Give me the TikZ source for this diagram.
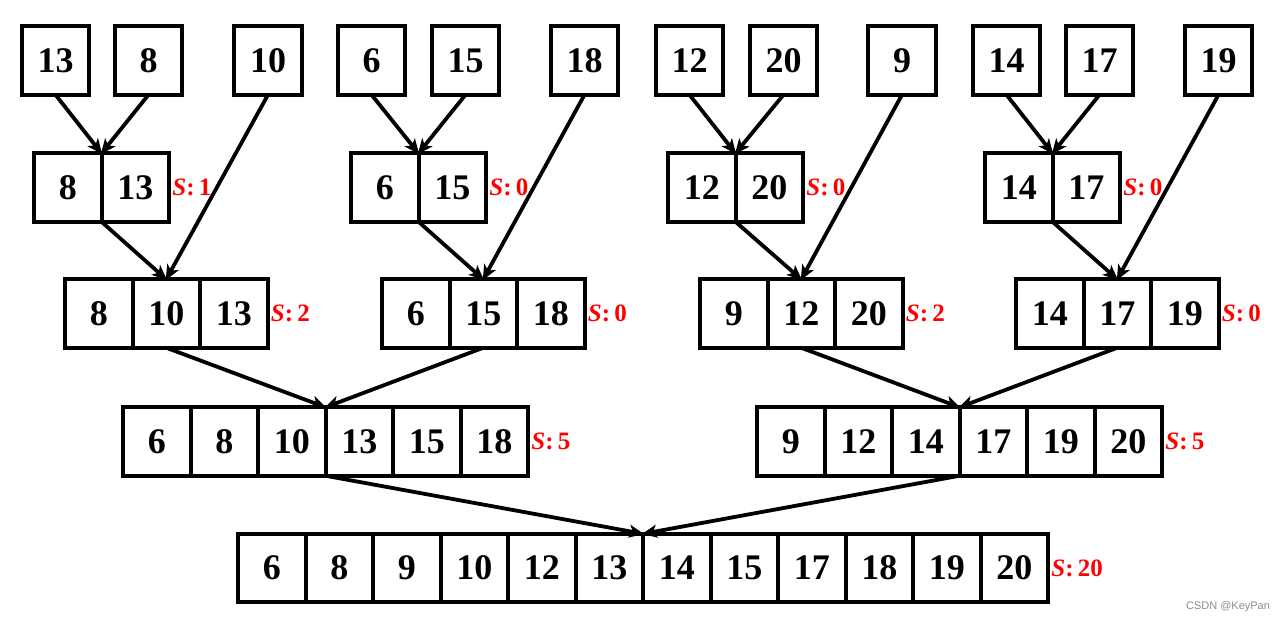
\documentclass[tikz,border=0pt]{standalone}
\usepackage{fontspec}
\setmainfont{Liberation Serif}
\setsansfont{Liberation Sans}
\usetikzlibrary{positioning,arrows.meta}

\begin{document}
\begin{tikzpicture}[>={Stealth[length=7.5pt,width=6.5pt,inset=2pt]},x=0.5pt,y=-0.5pt,
    cell/.style={draw,line width=2pt,minimum width=33.75pt,minimum height=34.25pt,inner sep=0pt,outer sep=0pt,font=\fontsize{18}{18}\selectfont\bfseries},
    score/.style={text=red,anchor=west,inner sep=1.5pt,font=\fontsize{12.5}{12}\selectfont\bfseries},
    link/.style={->,line width=1.9pt,shorten >=-0.5pt}]
    \useasboundingbox (0,0) rectangle (1284,621);
    % leaves
    \foreach \v/\x [count=\i] in {13/55.5,8/148.5,10/268,6/371.5,15/465.5,18/584.5,12/689.5,20/783.5,9/902,14/1006.5,17/1099.5,19/1218.5}
        \node[cell] (leaf\i) at (\x,60.5) {\v};
    % pairs
    \foreach \a/\b/\x/\s [count=\i] in {8/13/34/1,6/15/351/0,12/20/668/0,14/17/985/0} {
        \node[cell,anchor=west] (pair\i a) at (\x,187.5) {\a};
        \node[cell,right=0pt of pair\i a] (pair\i b) {\b};
        \node[score] (pair\i s) at (pair\i b.east) {\textit{S}:\,\s};
    }
    % triples
    \foreach \a/\b/\c/\x/\s [count=\i] in {8/10/13/65/2,6/15/18/382/0,9/12/20/700/2,14/17/19/1016/0} {
        \node[cell,anchor=west] (tri\i a) at (\x,313.5) {\a};
        \node[cell,right=0pt of tri\i a] (tri\i b) {\b};
        \node[cell,right=0pt of tri\i b] (tri\i c) {\c};
        \node[score] (tri\i s) at (tri\i c.east) {\textit{S}:\,\s};
    }
    % halves
    \foreach \v [count=\j] in {6,8,10,13,15,18}
        \node[cell] (half1-\j) at ({123+(\j-0.5)*67.5},441.5) {\v};
    \foreach \v [count=\j] in {9,12,14,17,19,20}
        \node[cell] (half2-\j) at ({757+(\j-0.5)*67.5},441.5) {\v};
    \node[score] (half1s) at (half1-6.east) {\textit{S}:\,5};
    \node[score] (half2s) at (half2-6.east) {\textit{S}:\,5};
    % whole
    \foreach \v [count=\j] in {6,8,9,10,12,13,14,15,17,18,19,20}
        \node[cell] (all-\j) at ({238+(\j-0.5)*67.5},568) {\v};
    \node[score] (alls) at (all-12.east) {\textit{S}:\,20};
    % merges
    \foreach \p/\q/\r [count=\i] in {1/2/3,4/5/6,7/8/9,10/11/12} {
        \draw[link] (leaf\p.south) -- (pair\i a.north east);
        \draw[link] (leaf\q.south) -- (pair\i a.north east);
        \draw[link] (leaf\r.south) -- (tri\i b.north);
        \draw[link] (pair\i a.south east) -- (tri\i b.north);
    }
    \draw[link] (tri1b.south) -- (half1-3.north east);
    \draw[link] (tri2b.south) -- (half1-3.north east);
    \draw[link] (tri3b.south) -- (half2-3.north east);
    \draw[link] (tri4b.south) -- (half2-3.north east);
    \draw[link] (half1-3.south east) -- (all-6.north east);
    \draw[link] (half2-3.south east) -- (all-6.north east);
    \node[text=black!45,font=\sffamily\fontsize{5.5}{6}\selectfont] (mark) at (1228,607) {CSDN @KeyPan};
\end{tikzpicture}
\end{document}
